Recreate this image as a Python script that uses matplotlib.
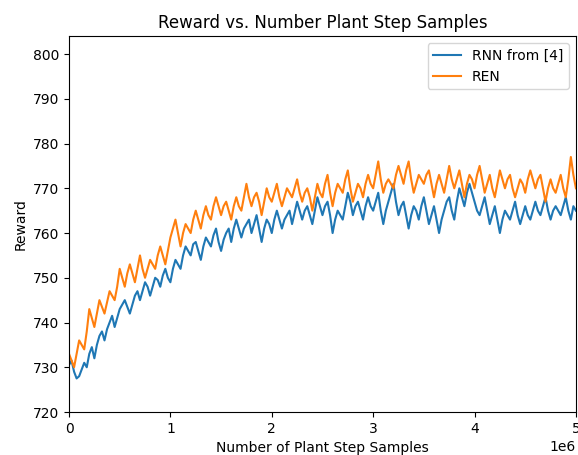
import matplotlib
matplotlib.use("Agg")
import matplotlib.pyplot as plt
import numpy as np

# plant step samples, every 25k steps
steps = np.arange(0, 5000001, 25000)

rnn_reward = [
    730.5, 731.5, 729, 727.5, 728, 729.5, 731, 730, 733, 734.5,
    732, 735, 737, 738, 736, 738.5, 740, 741.5, 739, 741,
    743, 744, 745, 743.5, 742, 744, 746, 747, 745, 747,
    749, 748, 746, 748, 750, 749.5, 748, 750.5, 752, 750,
    749, 752, 754, 753, 752, 755, 757, 756, 755, 757.5,
    758, 756, 754, 757, 759, 758, 757, 759.5, 761, 758,
    756, 758.5, 760, 761, 758, 761, 763, 761, 759, 761,
    762, 763, 760, 762, 764, 761, 758, 761, 763, 762,
    760, 763, 765, 763, 761, 763, 764, 765, 762, 764.5,
    767, 765, 763, 765, 766, 764, 762, 765, 768, 766,
    764, 766, 767, 764, 760, 763, 765, 764, 763, 766,
    769, 767, 764, 766, 767, 765, 763, 766, 768, 766,
    765, 767, 769, 765, 762, 765, 767, 769, 771, 767,
    764, 766, 767, 764, 761, 764, 766, 765, 763, 766,
    768, 765, 762, 764, 766, 763, 760, 763, 765, 767,
    768, 765, 763, 767, 770, 768, 766, 769, 771, 769,
    767, 765, 764, 766, 768, 765, 762, 764, 766, 763,
    760, 763, 765, 764, 763, 765, 767, 764, 762, 764,
    766, 764, 763, 765, 767, 765, 764, 766, 768, 765,
    763, 765, 766, 765, 764, 766, 768, 765, 763, 766,
    765,
]

ren_reward = [
    733, 731.5, 730, 733, 736, 735, 734, 738, 743, 741,
    739, 742, 745, 743.5, 742, 744.5, 747, 746, 745, 748,
    752, 750, 748, 751, 753, 751, 749, 752, 755, 752,
    750, 752, 754, 753, 752, 755, 757, 755, 753, 756,
    759, 761, 763, 760, 757, 760, 762, 761, 760, 763,
    765, 763, 761, 764, 766, 764, 763, 766, 768, 766,
    764, 766, 767, 765, 763, 766, 768, 766, 765, 768,
    771, 768, 766, 768, 769, 767, 764, 767, 770, 768,
    767, 769, 771, 768, 766, 768, 770, 769, 768, 770,
    772, 769, 767, 769, 770, 768, 765, 768, 771, 769,
    768, 771, 773, 769, 766, 769, 771, 770, 769, 772,
    774, 770, 767, 769, 771, 770, 768, 771, 773, 771,
    770, 773, 776, 772, 769, 771, 772, 771, 770, 773,
    775, 773, 771, 774, 776, 772, 769, 771, 773, 772,
    771, 773, 774, 771, 768, 771, 773, 771, 769, 772,
    775, 772, 770, 772, 774, 771, 768, 771, 773, 772,
    770, 773, 775, 772, 769, 771, 773, 770, 768, 771,
    774, 772, 770, 772, 773, 770, 768, 770, 772, 771,
    769, 772, 774, 772, 770, 772, 773, 770, 767, 770,
    772, 770, 769, 771, 773, 770, 768, 772, 777, 773,
    770,
]

fig = plt.figure(figsize=(5.78, 4.55), dpi=100)
ax = fig.add_axes([0.1194, 0.0945, 0.877, 0.826])

ax.plot(steps, rnn_reward, label="RNN from [4]")
ax.plot(steps, ren_reward, label="REN")

ax.set_xlim(0, 5e6)
ax.set_ylim(720, 804)
ax.set_title("Reward vs. Number Plant Step Samples")
ax.set_xlabel("Number of Plant Step Samples")
ax.set_ylabel("Reward")
ax.legend(loc="upper right")

fig.savefig("out.png", dpi=100)
